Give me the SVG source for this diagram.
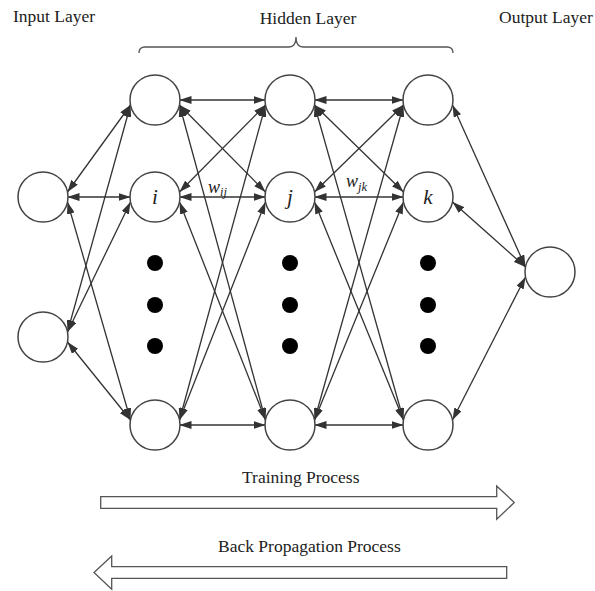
<svg xmlns="http://www.w3.org/2000/svg" width="595" height="591" viewBox="0 0 595 591">
<style>
.node{fill:#fff;stroke:#444;stroke-width:1.5}
.dot{fill:#000}
.conn{stroke:#333;stroke-width:1.3;fill:none;marker-start:url(#ah);marker-end:url(#ah)}
.lbl{font-family:"Liberation Serif","Times New Roman",serif;font-size:17.5px;fill:#222}
.nl{font-family:"Liberation Serif","Times New Roman",serif;font-style:italic;fill:#222}
.blk{fill:#fff;stroke:#555;stroke-width:1.3}
.brace{fill:none;stroke:#555;stroke-width:1.3}
</style>
<defs>
<marker id="ah" markerUnits="userSpaceOnUse" markerWidth="12" markerHeight="8" refX="12" refY="4" orient="auto-start-reverse">
<path d="M0,0 L12,4 L0,8 z" fill="#333"/>
</marker>
</defs>
<rect width="595" height="591" fill="#fff"/>
<text class="lbl" x="13" y="22">Input Layer</text>
<text class="lbl" x="308" y="24" text-anchor="middle">Hidden Layer</text>
<text class="lbl" x="499" y="23">Output Layer</text>
<path class="brace" d="M139,53 Q139,47 145,47 L289,47 Q296,47 296,37 Q296,47 303,47 L447,47 Q453,47 453,53"/>
<g id="connectors">
<line class="conn" x1="67.5" y1="192" x2="130.5" y2="105"/>
<line class="conn" x1="67.5" y1="197" x2="130.5" y2="197"/>
<line class="conn" x1="67.5" y1="202" x2="130.5" y2="420"/>
<line class="conn" x1="67.5" y1="332" x2="130.5" y2="105"/>
<line class="conn" x1="67.5" y1="332" x2="130.5" y2="202"/>
<line class="conn" x1="67.5" y1="342" x2="130.5" y2="420"/>
<line class="conn" x1="179.5" y1="100" x2="265.5" y2="100"/>
<line class="conn" x1="179.5" y1="105" x2="265.5" y2="192"/>
<line class="conn" x1="179.5" y1="105" x2="265.5" y2="420"/>
<line class="conn" x1="179.5" y1="192" x2="265.5" y2="105"/>
<line class="conn" x1="179.5" y1="197" x2="265.5" y2="197"/>
<line class="conn" x1="179.5" y1="202" x2="265.5" y2="420"/>
<line class="conn" x1="179.5" y1="420" x2="265.5" y2="105"/>
<line class="conn" x1="179.5" y1="420" x2="265.5" y2="202"/>
<line class="conn" x1="179.5" y1="425" x2="265.5" y2="425"/>
<line class="conn" x1="314.5" y1="100" x2="403.5" y2="100"/>
<line class="conn" x1="314.5" y1="105" x2="403.5" y2="192"/>
<line class="conn" x1="314.5" y1="105" x2="403.5" y2="420"/>
<line class="conn" x1="314.5" y1="192" x2="403.5" y2="105"/>
<line class="conn" x1="314.5" y1="197" x2="403.5" y2="197"/>
<line class="conn" x1="314.5" y1="202" x2="403.5" y2="420"/>
<line class="conn" x1="314.5" y1="420" x2="403.5" y2="105"/>
<line class="conn" x1="314.5" y1="420" x2="403.5" y2="202"/>
<line class="conn" x1="314.5" y1="425" x2="403.5" y2="425"/>
<line class="conn" x1="452.5" y1="105" x2="525.5" y2="267"/>
<line class="conn" x1="452.5" y1="202" x2="525.5" y2="267"/>
<line class="conn" x1="452.5" y1="420" x2="525.5" y2="277"/>
</g>
<g id="in1"><circle class="node" cx="43" cy="197" r="25"/></g>
<g id="in2"><circle class="node" cx="43" cy="337" r="25"/></g>
<g id="h1a"><circle class="node" cx="155" cy="100" r="25"/></g>
<g id="h1b"><circle class="node" cx="155" cy="197" r="25"/><text class="nl" x="155" y="204" font-size="21" text-anchor="middle">i</text></g>
<g id="h1c"><circle class="node" cx="155" cy="425" r="25"/></g>
<g id="h2a"><circle class="node" cx="290" cy="100" r="25"/></g>
<g id="h2b"><circle class="node" cx="290" cy="197" r="25"/><text class="nl" x="290" y="204" font-size="21" text-anchor="middle">j</text></g>
<g id="h2c"><circle class="node" cx="290" cy="425" r="25"/></g>
<g id="h3a"><circle class="node" cx="428" cy="100" r="25"/></g>
<g id="h3b"><circle class="node" cx="428" cy="197" r="25"/><text class="nl" x="428" y="204" font-size="21" text-anchor="middle">k</text></g>
<g id="h3c"><circle class="node" cx="428" cy="425" r="25"/></g>
<g id="out"><circle class="node" cx="550" cy="272" r="25"/></g>
<g id="dots">
<circle class="dot" cx="155" cy="263" r="8"/><circle class="dot" cx="155" cy="305" r="8"/><circle class="dot" cx="155" cy="346" r="8"/>
<circle class="dot" cx="290" cy="263" r="8"/><circle class="dot" cx="290" cy="305" r="8"/><circle class="dot" cx="290" cy="346" r="8"/>
<circle class="dot" cx="428" cy="263" r="8"/><circle class="dot" cx="428" cy="305" r="8"/><circle class="dot" cx="428" cy="346" r="8"/>
</g>
<g id="weights">
<text class="nl" x="208" y="193" font-size="18">w<tspan font-size="12.5" dy="3">ij</tspan></text>
<text class="nl" x="346" y="187" font-size="18">w<tspan font-size="12.5" dy="4">jk</tspan></text>
</g>
<g id="training">
<text class="lbl" x="242" y="483">Training Process</text>
<polygon class="blk" points="100.7,496.7 496.7,496.7 496.7,486 514.3,502.5 496.7,519.3 496.7,508.3 100.7,508.3"/>
</g>
<g id="backprop">
<text class="lbl" x="218" y="552">Back Propagation Process</text>
<polygon class="blk" points="506.7,566.7 111.7,566.7 111.7,556 94,572.5 111.7,589.3 111.7,578.3 506.7,578.3"/>
</g>
</svg>
